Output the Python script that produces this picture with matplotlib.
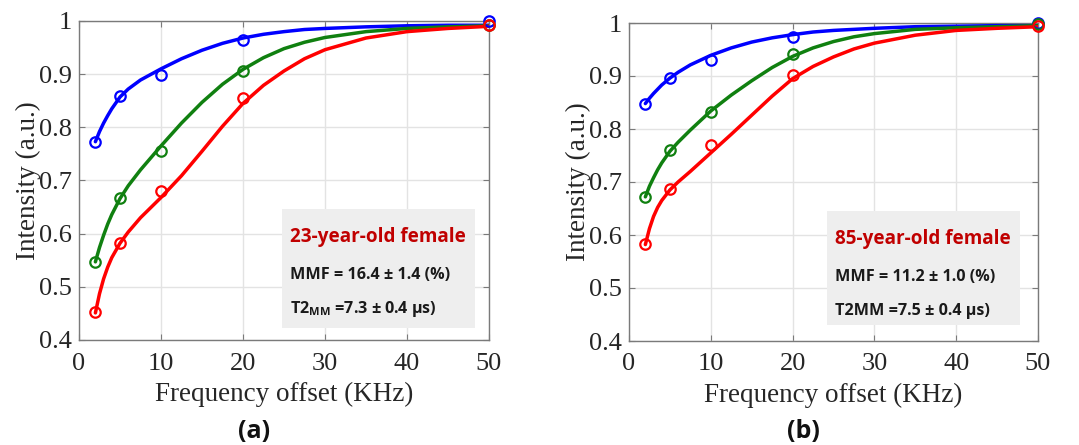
import matplotlib.pyplot as plt
from matplotlib.patches import Rectangle

freq = [2, 5, 10, 20, 50]

# measured points, panel (a) 23-year-old
a_blue = [0.772, 0.858, 0.898, 0.965, 1.000]
a_green = [0.546, 0.668, 0.756, 0.906, 0.993]
a_red = [0.452, 0.582, 0.680, 0.856, 0.993]

# measured points, panel (b) 85-year-old
b_blue = [0.847, 0.896, 0.930, 0.974, 1.000]
b_green = [0.671, 0.761, 0.832, 0.941, 0.998]
b_red = [0.583, 0.686, 0.770, 0.901, 0.995]

# fitted curves
fit_x = [2, 2.5, 3, 3.5, 4, 5, 6, 7.5, 10, 12.5, 15, 17.5, 20, 22.5, 25, 27.5, 30, 35, 40, 45, 50]
a_blue_fit = [0.773, 0.792, 0.808, 0.822, 0.835, 0.857, 0.872, 0.889, 0.910, 0.929, 0.945, 0.958, 0.968,
              0.975, 0.980, 0.984, 0.986, 0.989, 0.991, 0.992, 0.992]
a_green_fit = [0.547, 0.574, 0.597, 0.618, 0.636, 0.666, 0.690, 0.720, 0.765, 0.808, 0.847, 0.881, 0.909,
               0.931, 0.948, 0.960, 0.969, 0.980, 0.986, 0.989, 0.991]
a_red_fit = [0.451, 0.487, 0.515, 0.537, 0.555, 0.582, 0.603, 0.630, 0.668, 0.709, 0.755, 0.802, 0.845,
             0.879, 0.906, 0.929, 0.946, 0.968, 0.980, 0.986, 0.990]
b_blue_fit = [0.848, 0.858, 0.867, 0.875, 0.883, 0.896, 0.907, 0.921, 0.939, 0.953, 0.964, 0.972, 0.978,
              0.983, 0.986, 0.988, 0.990, 0.993, 0.994, 0.995, 0.995]
b_green_fit = [0.672, 0.692, 0.708, 0.723, 0.736, 0.758, 0.775, 0.798, 0.834, 0.864, 0.891, 0.916, 0.937,
               0.953, 0.965, 0.974, 0.980, 0.988, 0.991, 0.993, 0.995]
b_red_fit = [0.582, 0.612, 0.635, 0.652, 0.665, 0.685, 0.700, 0.720, 0.755, 0.790, 0.826, 0.862, 0.895,
             0.918, 0.936, 0.951, 0.962, 0.977, 0.986, 0.990, 0.993]

titles = ["23-year-old female", "85-year-old female"]
mmf_text = ["MMF = 16.4 ± 1.4 (%)", "MMF = 11.2 ± 1.0 (%)"]
t2_text = ["T2$_{\\mathregular{MM}}$ =7.3 ± 0.4 µs)", "T2MM =7.5 ± 0.4 µs)"]
panel_labels = ["(a)", "(b)"]

colors = ["#0000ff", "#108010", "#ff0000"]

panels = [
    ([a_blue, a_green, a_red], [a_blue_fit, a_green_fit, a_red_fit]),
    ([b_blue, b_green, b_red], [b_blue_fit, b_green_fit, b_red_fit]),
]

fig = plt.figure(figsize=(10.79, 4.45), dpi=100)
W, H = 1079, 445
axes_px = [(79, 21, 410, 319), (629, 23, 409, 318)]
box_px = [(282, 209, 193, 119), (827, 211, 193, 114)]
label_x = [254, 803]

serif = "Liberation Serif"
sans = ["Open Sans", "DejaVu Sans"]

for i, (pts, fits) in enumerate(panels):
    l, t, w, h = axes_px[i]
    ax = fig.add_axes([l / W, 1 - (t + h) / H, w / W, h / H])
    for p, f, c in zip(pts, fits, colors):
        ax.plot(fit_x, f, color=c, lw=2.5, solid_capstyle="round", solid_joinstyle="round", zorder=3)
        ax.plot(freq, p, "o", mfc="none", mec=c, mew=1.6, ms=7.5, zorder=4, clip_on=False)
    ax.set_xlim(0, 50)
    ax.set_ylim(0.4, 1.0)
    ax.set_xticks([0, 10, 20, 30, 40, 50])
    ax.set_yticks([0.4, 0.5, 0.6, 0.7, 0.8, 0.9, 1.0])
    ax.set_yticklabels(["0.4", "0.5", "0.6", "0.7", "0.8", "0.9", "1"])
    ax.grid(True, color="#e3e3e3", lw=1.0)
    ax.set_axisbelow(True)
    for s in ax.spines.values():
        s.set_color("#7a7a7a")
        s.set_linewidth(1.0)
    ax.tick_params(direction="in", length=4, color="#7a7a7a", labelsize=19,
                   top=True, right=True, pad=5)
    ax.tick_params(axis="x", pad=9)
    for lab in ax.get_xticklabels() + ax.get_yticklabels():
        lab.set_fontfamily(serif)
        lab.set_color("#262626")
    ax.set_xlabel("Frequency offset (KHz)", fontfamily=serif, fontsize=19.5, color="#262626", labelpad=5)
    ax.set_ylabel("Intensity (a.u.)", fontfamily=serif, fontsize=19.5, color="#262626", labelpad=-1.5)

    # annotation box
    bx, by, bw, bh = box_px[i]
    ax.add_patch(Rectangle((bx / W, 1 - (by + bh) / H), bw / W, bh / H, transform=fig.transFigure,
                           facecolor="#eeeeee", edgecolor="none", zorder=2))
    tx = (bx + 8) / W
    fig.text(tx, 1 - (by + 28) / H, titles[i], fontsize=13.6, fontweight="bold",
             color="#c00000", family=sans, va="center", zorder=5)
    fig.text(tx, 1 - (by + 66) / H, mmf_text[i], fontsize=11.6, fontweight="bold",
             color="#1a1a1a", family=sans, va="center", zorder=5)
    fig.text(tx, 1 - (by + 100) / H, t2_text[i], fontsize=11.6, fontweight="bold",
             color="#1a1a1a", family=sans, va="center", zorder=5)

    fig.text(label_x[i] / W, 1 - 432 / H, panel_labels[i], ha="center", va="center",
             fontsize=18, fontweight="bold", family=sans, color="#111111")

fig.savefig("out.png", dpi=100)
